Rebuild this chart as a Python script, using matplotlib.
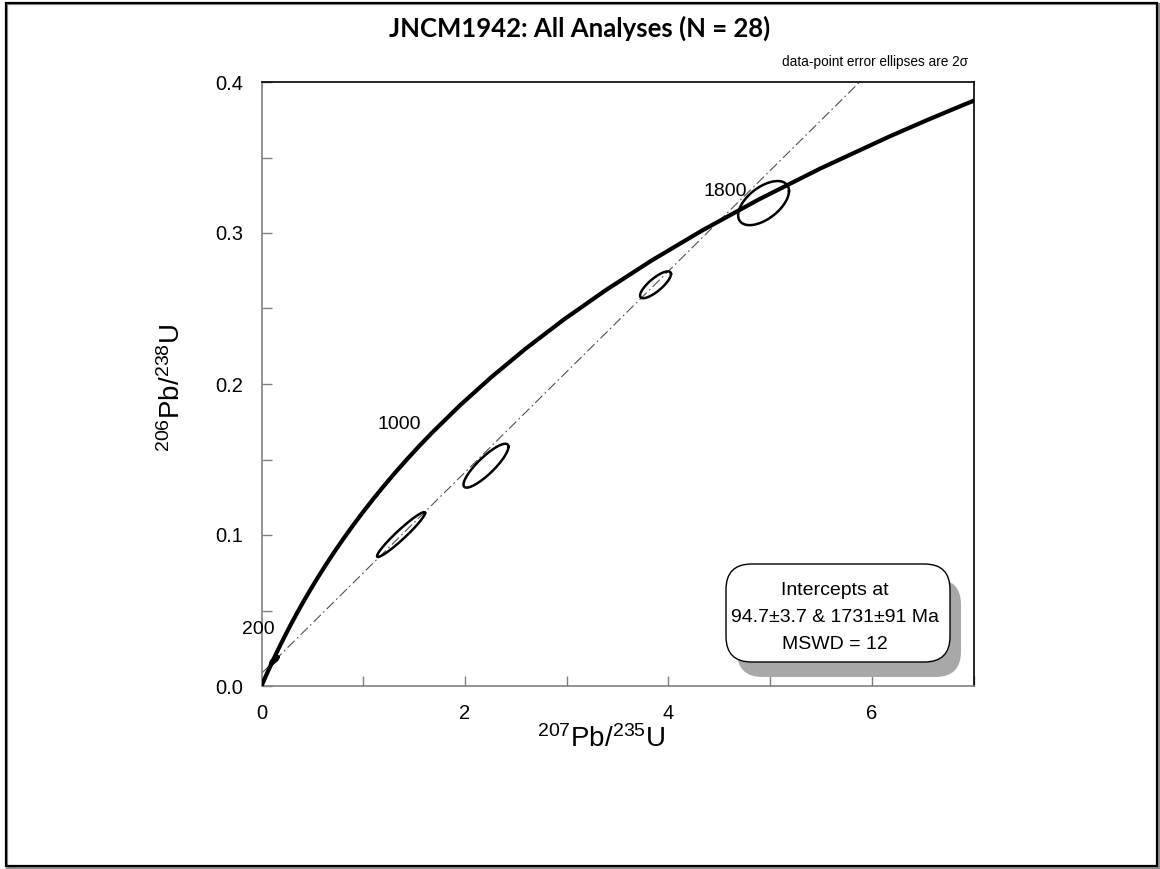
import numpy as np
import matplotlib
matplotlib.use("Agg")
import matplotlib.pyplot as plt
from matplotlib.patches import FancyBboxPatch, Rectangle
from matplotlib.ticker import MultipleLocator

# ---------------- data ----------------
# Concordia curve (207Pb/235U, 206Pb/238U) at ages in Ma
concordia_age = [0, 50, 100, 150, 200, 250, 300, 350, 400, 450, 500, 550,
                 600, 650, 700, 750, 800, 850, 900, 950, 1000, 1100, 1200,
                 1300, 1400, 1500, 1600, 1700, 1800, 1900, 2000, 2050, 2100,
                 2150, 2200]
concordia_x = [0.0, 0.05048, 0.1035, 0.15920, 0.2177, 0.27917, 0.3437,
               0.41156, 0.4828, 0.55766, 0.6363, 0.71887, 0.8056, 0.89677,
               0.9925, 1.09308, 1.1987, 1.30971, 1.4263, 1.54876, 1.6774,
               1.95452, 2.2603, 2.59773, 2.9700, 3.38099, 3.8344, 4.33477,
               4.8865, 5.49618, 6.1686, 6.53036, 6.9105, 7.30972, 7.7292]
concordia_y = [0.0, 0.007786, 0.01563, 0.023542, 0.03151, 0.039543, 0.04764,
               0.055794, 0.06402, 0.072301, 0.08065, 0.089065, 0.09754,
               0.10609, 0.11470, 0.123382, 0.13213, 0.140944, 0.14982,
               0.158781, 0.16779, 0.186061, 0.20459, 0.223435, 0.24257,
               0.261988, 0.28174, 0.301754, 0.32212, 0.342773, 0.36375,
               0.374384, 0.38511, 0.395871, 0.40676]

# age labels on concordia
age_labels = ["200", "1000", "1800"]
age_label_x = [0.133, 1.136, 4.341]
age_label_y = [0.0373, 0.1733, 0.3277]
age_label_ha = ["right", "left", "left"]

# discordia intercepts (94.7 Ma and 1731 Ma)
disc_x = [0.09775, 4.5002]
disc_y = [0.014799, 0.30802]

# data-point ellipses: centre, 2-sigma half extents, error correlation
ell_x = [0.105, 0.125, 0.145, 1.372, 2.207, 3.874, 4.936]
ell_y = [0.0158, 0.0172, 0.0180, 0.1003, 0.1459, 0.2657, 0.3198]
ell_sx = [0.020, 0.022, 0.020, 0.236, 0.221, 0.152, 0.250]
ell_sy = [0.0018, 0.0020, 0.0018, 0.01485, 0.01452, 0.0089, 0.0146]
ell_rho = [0.6, 0.6, 0.6, 0.96, 0.86, 0.80, 0.55]

x_ticks = [0, 2, 4, 6]
y_ticks = [0.0, 0.1, 0.2, 0.3, 0.4]

title = "JNCM1942: All Analyses (N = 28)"
note = "data-point error ellipses are 2\u03c3"
box_lines = ["Intercepts at", "94.7\u00b13.7 & 1731\u00b191 Ma", "MSWD = 12"]

# ---------------- figure ----------------
W, H = 1160, 869
plt.rcParams['font.family'] = ['Liberation Sans', 'DejaVu Sans']
plt.rcParams['mathtext.fontset'] = 'custom'
plt.rcParams['mathtext.rm'] = 'Liberation Sans'
plt.rcParams['mathtext.default'] = 'regular'

fig = plt.figure(figsize=(W / 100, H / 100), dpi=100)
fig.patch.set_facecolor('white')


def fx(px):
    return px / W


def fy(py):
    return 1 - py / H


# outer frame
fig.add_artist(Rectangle((fx(7), fy(868)), fx(1152), 864 / H,
                         transform=fig.transFigure, fill=False,
                         edgecolor='#909090', lw=1.6, zorder=0))
fig.add_artist(Rectangle((fx(6), fy(866)), fx(1151), 863 / H,
                         transform=fig.transFigure, fill=False,
                         edgecolor='black', lw=1.6, zorder=1))

AX_L, AX_R, AX_T, AX_B = 261.5, 973.5, 82, 686
ax = fig.add_axes([fx(AX_L), fy(AX_B), fx(AX_R - AX_L), (AX_B - AX_T) / H])
ax.set_xlim(0, 7)
ax.set_ylim(0, 0.4)

# concordia
ax.plot(concordia_x, concordia_y, color='black', lw=3.0, solid_capstyle='round',
        solid_joinstyle='round', zorder=3)

# discordia line
ax.axline((disc_x[0], disc_y[0]), (disc_x[1], disc_y[1]), color='#505050',
          lw=0.8, linestyle=(0, (9, 3, 1.5, 3)), zorder=2)

# ellipses
t = np.linspace(0, 2 * np.pi, 200)
for cx, cy, sx, sy, r in zip(ell_x, ell_y, ell_sx, ell_sy, ell_rho):
    ex = cx + sx * np.cos(t)
    ey = cy + sy * (r * np.cos(t) + np.sqrt(1 - r * r) * np.sin(t))
    ax.plot(ex, ey, color='black', lw=1.8, zorder=4)

# age labels
for lab, lx, ly, ha in zip(age_labels, age_label_x, age_label_y, age_label_ha):
    ax.text(lx, ly, lab, fontsize=14, ha=ha, va='center', zorder=5,
            clip_on=False)

# axes styling
ax.set_xticks(x_ticks)
ax.set_xticklabels([str(v) for v in x_ticks])
ax.set_yticks(y_ticks)
ax.set_yticklabels([f"{v:.1f}" for v in y_ticks])
ax.xaxis.set_minor_locator(MultipleLocator(1))
ax.yaxis.set_minor_locator(MultipleLocator(0.05))
ax.tick_params(axis='both', which='both', direction='in', top=False, right=False,
               color='#808080', labelsize=14.5)
ax.tick_params(axis='both', which='both', length=7, width=1)
ax.tick_params(axis='x', which='major', pad=13)
ax.tick_params(axis='y', which='major', pad=13)
for s in ['left', 'bottom']:
    ax.spines[s].set_color('#808080')
    ax.spines[s].set_linewidth(1.2)
for s in ['top', 'right']:
    ax.spines[s].set_color('black')
    ax.spines[s].set_linewidth(1.2)

# axis labels
fig.text(fx(601), fy(747), r'$^{207}$Pb/$^{235}$U', fontsize=20, ha='center',
         va='baseline')
fig.text(fx(172), fy(388), r'$^{206}$Pb/$^{238}$U', fontsize=20, ha='center',
         va='center', rotation=90)

# title
fig.text(fx(580), fy(37), title, fontsize=18.5, fontweight='bold',
         family=['Lato', 'DejaVu Sans'], ha='center', va='baseline')

# note
fig.text(fx(968), fy(66), note, fontsize=9.8, ha='right', va='baseline')

# intercept box with shadow
bx0, by0, bx1, by1 = 726, 564, 950, 662
shadow = FancyBboxPatch((fx(bx0 + 11), fy(by1 + 15)), fx(bx1 - bx0),
                        (by1 - by0) / H,
                        boxstyle="round,pad=0,rounding_size=0.022",
                        transform=fig.transFigure, facecolor='#a8a8a8',
                        edgecolor='none', zorder=6, mutation_aspect=W / H)
box = FancyBboxPatch((fx(bx0), fy(by1)), fx(bx1 - bx0), (by1 - by0) / H,
                     boxstyle="round,pad=0,rounding_size=0.022",
                     transform=fig.transFigure, facecolor='white',
                     edgecolor='black', lw=1.0, zorder=7, mutation_aspect=W / H)
fig.add_artist(shadow)
fig.add_artist(box)
for i, line in enumerate(box_lines):
    fig.text(fx(835), fy(595 + 27 * i), line, fontsize=14, ha='center',
             va='baseline', zorder=8)

fig.savefig("out.png", dpi=100, facecolor='white')
